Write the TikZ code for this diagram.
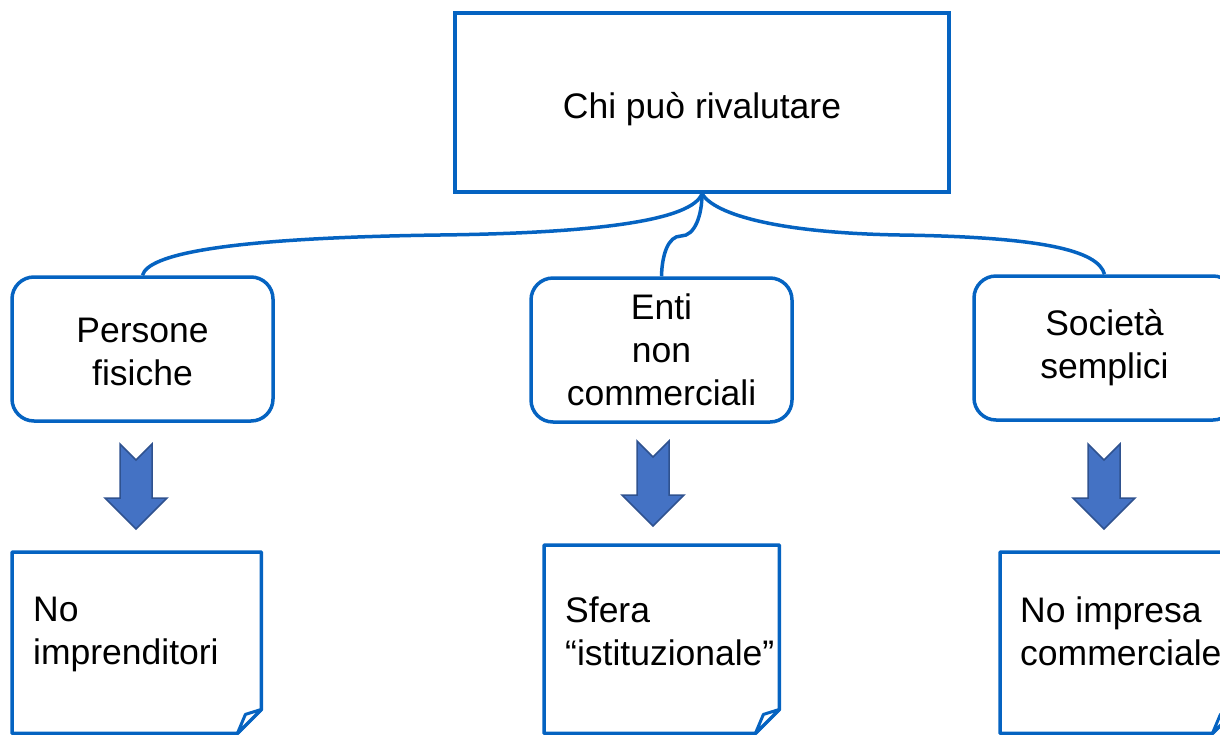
\documentclass[tikz,border=0pt]{standalone}
\usepackage{fontspec}
\setmainfont{Liberation Sans}
\usetikzlibrary{calc}
\definecolor{lineblue}{RGB}{5,99,193}
\definecolor{arrowfill}{RGB}{68,114,196}
\definecolor{arrowedge}{RGB}{47,82,143}
\begin{document}
\begin{tikzpicture}[x=1pt,y=-1pt,
  every node/.style={font=\fontsize{35.5}{43}\selectfont, text=black},
  mainbox/.style={draw=lineblue, line width=3.5pt, minimum width=494pt, minimum height=179pt, inner sep=0pt},
  groupbox/.style={draw=lineblue, line width=3.5pt, rounded corners=22pt, minimum width=261pt, minimum height=144pt, align=center, inner sep=0pt},
  link/.style={draw=lineblue, line width=3.5pt},
  noteframe/.style={inner sep=0pt, minimum height=181pt, anchor=north west},
  noteline/.style={draw=lineblue, line width=3.5pt, line join=round},
  notetext/.style={anchor=north west, align=left, inner sep=0pt},
  downarrow/.pic={
    \draw[fill=arrowfill, draw=arrowedge, line width=1.5pt, line join=miter]
      (-16,0) -- (0,16) -- (16,0) -- (16,54) -- (31,54) -- (0,85)
      -- (-31,54) -- (-16,54) -- cycle;
  }
]
\useasboundingbox (0,0) rectangle (1220,734);
\clip (0,0) rectangle (1220,734);

% root box
\node[mainbox, text height=31pt, text depth=0pt] (top) at (702,102.5) {Chi può rivalutare};

% the three categories
\node[groupbox] (pf)  at (142.5,349) {\rule{0pt}{30pt}Persone\\fisiche};
\node[groupbox] (enc) at (661.5,350) {Enti\\non\\commerciali};
\node[groupbox] (ss)  at (1104.5,348) {Società\\semplici};

% brace-like connectors from the root
\draw[link] (top.south) .. controls (692,220) and (600,233) .. (440,235)
                        .. controls (220,238) and (148,255) .. (pf.north);
\draw[link] (top.south) .. controls (702,215) and (695,236) .. (681,236)
                        .. controls (668,236) and (662,255) .. (enc.north);
\draw[link] (top.south) .. controls (715,215) and (780,233) .. (900,235)
                        .. controls (1040,237) and (1098,250) .. (ss.north);

% block arrows
\pic at (136,444) {downarrow};
\pic at (653,441) {downarrow};
\pic at (1104,444) {downarrow};

% notes with a folded corner
\node[noteframe, minimum width=249pt] (n1) at (12,552) {};
\node[noteframe, minimum width=235pt, minimum height=188pt] (n2) at (544,545) {};
\node[noteframe, minimum width=236pt] (n3) at (1000,552) {};

\foreach \n in {n1,n2,n3}{
  \draw[noteline] (\n.north west) -- (\n.north east) -- ($(\n.south east)+(0,-24)$)
    -- ($(\n.south east)+(-24,0)$) -- (\n.south west) -- cycle;
  \draw[noteline, line width=3pt, fill=white] ($(\n.south east)+(0,-24)$)
    -- ($(\n.south east)+(-16,-19)$) -- ($(\n.south east)+(-24,0)$) -- cycle;
}

\node[notetext] (t1) at (33,597) {No\\imprenditori};
\node[notetext] (t2) at (565,597) {Sfera\\“istituzionale”};
\node[notetext] (t3) at (1020,597) {No impresa\\commerciale};
\end{tikzpicture}
\end{document}
